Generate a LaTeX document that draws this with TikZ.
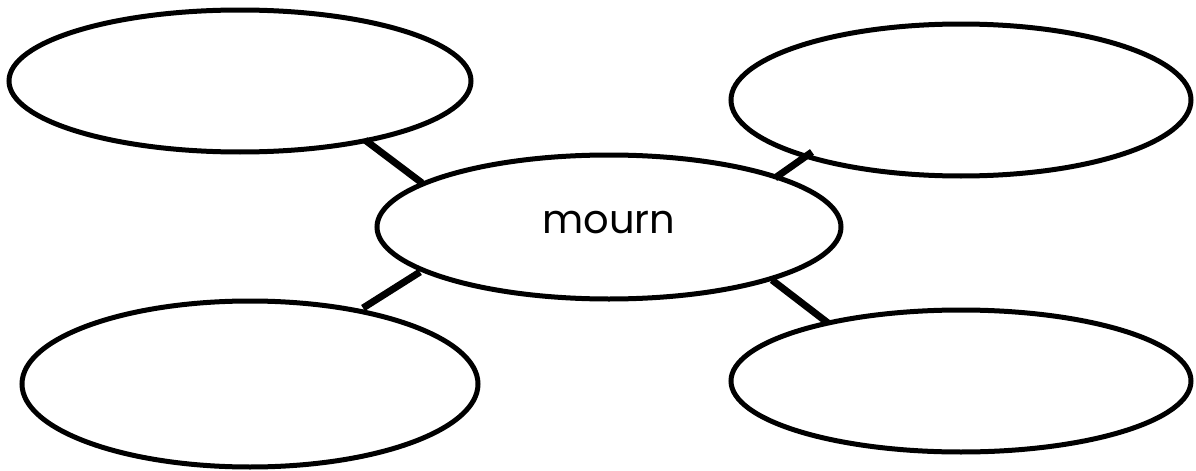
\documentclass[tikz,border=0pt]{standalone}
\usepackage{fontspec}
\setmainfont{Poppins}
\usetikzlibrary{shapes.geometric,calc}
\begin{document}
\begin{tikzpicture}[x=0.5pt,y=-0.5pt,
  bubble/.style={draw=black,line width=2.5pt,ellipse,inner sep=0pt,fill=white},
  link/.style={draw=black,line width=3.5pt}]
\path[use as bounding box,fill=white] (0,0) rectangle (1196,471);
\node[bubble,minimum width=231pt,minimum height=71pt] (tl) at (240,81) {};
\node[bubble,minimum width=230pt,minimum height=76pt] (tr) at (961,100) {};
\node[bubble,minimum width=232pt,minimum height=72pt] (c) at (609,227) {\raisebox{-3pt}[0pt][0pt]{\fontsize{20}{24}\selectfont mourn}};
\node[bubble,minimum width=228pt,minimum height=83pt] (bl) at (250,384) {};
\node[bubble,minimum width=230pt,minimum height=71pt] (br) at (961,381) {};
\draw[link] ($(tl)+(125,59)$) -- ($(c)+(-187,-44)$);
\draw[link] ($(c)+(166,-49)$) -- ($(tr)+(-149,52)$);
\draw[link] ($(bl)+(113,-76)$) -- ($(c)+(-189,45)$);
\draw[link] ($(c)+(163,53)$) -- ($(br)+(-133,-58)$);
\end{tikzpicture}
\end{document}
